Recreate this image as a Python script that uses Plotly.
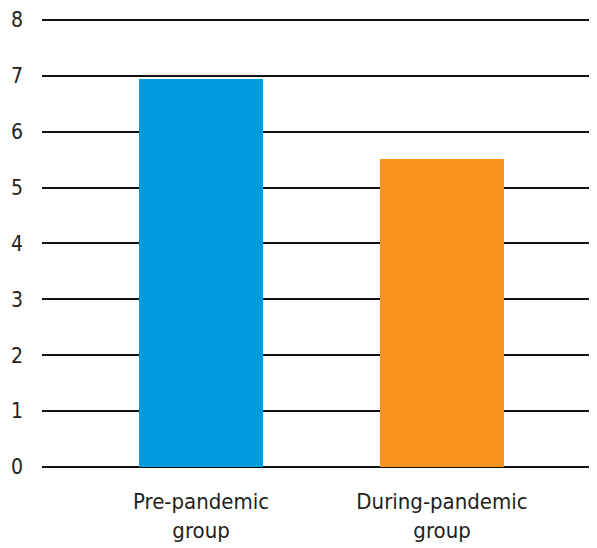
import plotly.graph_objects as go

categories = ["Pre-pandemic<br>group", "During-pandemic<br>group"]
values = [6.94, 5.51]
colors = ["#009CDE", "#F7941E"]
y_ticks = [0, 1, 2, 3, 4, 5, 6, 7, 8]

FONT = "DejaVu Sans Condensed, Liberation Sans Narrow, sans-serif"
FS = 21

fig = go.Figure(go.Bar(
    x=categories, y=values, marker=dict(color=colors, line=dict(width=0)),
    width=0.515,
))

fig.update_layout(
    width=589, height=540,
    margin=dict(l=34, r=0, t=9, b=81),
    plot_bgcolor="white", paper_bgcolor="white",
    font=dict(family=FONT, size=FS, color="#231F20"),
    showlegend=False,
    bargap=0,
)
fig.update_xaxes(
    range=[-0.66, 1.643], automargin=False,
    showgrid=False, zeroline=False, showline=False,
    ticks="", ticklabelstandoff=19,
    tickfont=dict(family=FONT, size=22, color="#231F20"),
)
fig.update_yaxes(
    range=[0, 8.05], tickvals=y_ticks, automargin=False,
    showgrid=True, gridcolor="#111111", gridwidth=2,
    zeroline=True, zerolinecolor="#111111", zerolinewidth=2,
    showline=False, ticks="", ticklabelstandoff=18,
    tickfont=dict(family=FONT, size=FS, color="#231F20"),
)

fig.write_html("out.html")
